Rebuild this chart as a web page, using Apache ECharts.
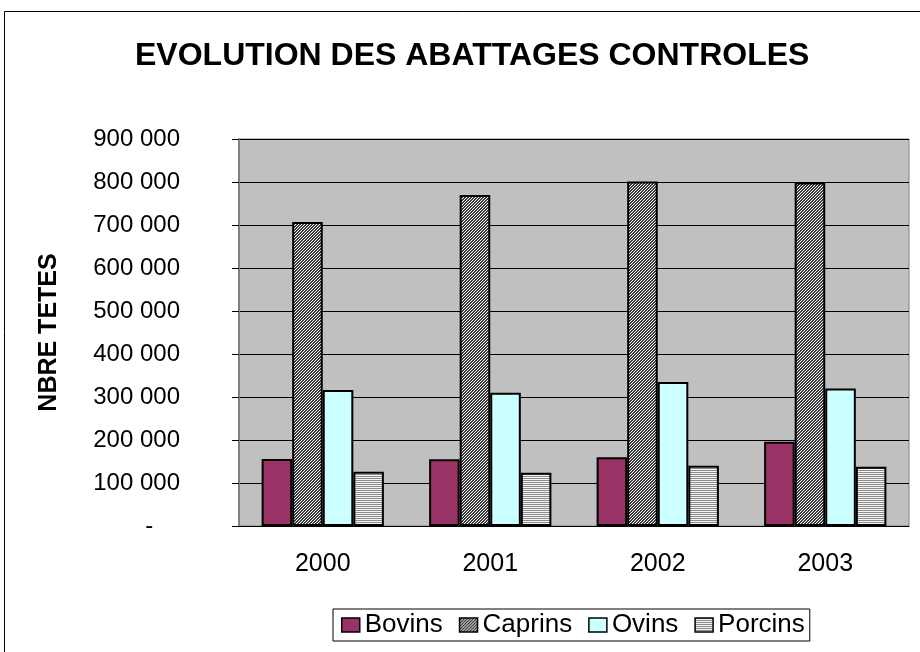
<!DOCTYPE html>
<html>

<head>
  <meta charset="utf-8">
  <title>Evolution des abattages controles</title>
  <style>
    html, body { margin: 0; padding: 0; background: #fff; }
    #chart { width: 920px; height: 652px; }
  </style>
</head>

<body>
  <div id="chart"></div>
  <script src="https://cdn.jsdelivr.net/npm/echarts@6/dist/echarts.min.js"></script>

  <script type="text/javascript">
    // données
    var annees = ['2000', '2001', '2002', '2003'];
    var bovins = [156000, 155000, 160000, 196000];
    var caprins = [707000, 770000, 801000, 799000];
    var ovins = [316000, 310000, 335000, 320000];
    var porcins = [126000, 124000, 140000, 138000];

    var police = 'Liberation Sans, Arial, sans-serif';

    // motif hachuré diagonal fin (caprins)
    function motifDiagonal() {
      var c = document.createElement('canvas');
      c.width = 3; c.height = 3;
      var ctx = c.getContext('2d');
      ctx.fillStyle = '#ffffff';
      ctx.fillRect(0, 0, 3, 3);
      ctx.fillStyle = '#3c3c3c';
      for (var x = 0; x < 3; x++) {
        for (var y = 0; y < 3; y++) {
          if ((x + y) % 3 !== 0) ctx.fillRect(x, y, 1, 1);
        }
      }
      return c;
    }

    // motif rayé horizontal (porcins)
    function motifHorizontal() {
      var c = document.createElement('canvas');
      c.width = 4; c.height = 2;
      var ctx = c.getContext('2d');
      ctx.fillStyle = '#f4f4f4';
      ctx.fillRect(0, 0, 4, 2);
      ctx.fillStyle = '#8c8c8c';
      ctx.fillRect(0, 0, 4, 1);
      return c;
    }

    function serie(nom, valeurs, couleur) {
      return {
        name: nom,
        type: 'bar',
        data: valeurs,
        barGap: '0%',
        barCategoryGap: '27%',
        itemStyle: { color: couleur, borderColor: '#000', borderWidth: 2 }
      };
    }

    var chart = echarts.init(document.getElementById('chart'));
    chart.setOption({
      animation: false,
      textStyle: { fontFamily: police },
      title: {
        text: 'EVOLUTION DES ABATTAGES CONTROLES',
        left: 135,
        top: 40,
        padding: 0,
        textStyle: { fontSize: 32, fontWeight: 'bold', color: '#000', fontFamily: police }
      },
      graphic: [{
        type: 'rect',
        shape: { x: 4.5, y: 11.5, width: 1000, height: 1000 },
        style: { fill: 'none', stroke: '#000', lineWidth: 1 },
        silent: true
      }],
      grid: {
        left: 239, top: 139, right: 11, bottom: 126,
        show: true,
        backgroundColor: '#c0c0c0',
        borderColor: '#808080',
        borderWidth: 1
      },
      legend: {
        left: 333,
        top: 609,
        padding: [3, 5, 3, 8],
        backgroundColor: '#fff',
        borderColor: '#000',
        borderWidth: 1,
        borderRadius: 0,
        icon: 'rect',
        itemWidth: 18,
        itemHeight: 14,
        itemGap: 16,
        textStyle: { fontSize: 26, color: '#000', fontFamily: police },
        itemStyle: { borderColor: '#000', borderWidth: 1.5 },
        data: ['Bovins', 'Caprins', 'Ovins', 'Porcins']
      },
      xAxis: {
        type: 'category',
        data: annees,
        axisLine: { lineStyle: { color: '#000', width: 1 } },
        axisTick: { length: 7, lineStyle: { color: '#000' } },
        axisLabel: { fontSize: 25, color: '#000', margin: 26, fontFamily: police }
      },
      yAxis: {
        type: 'value',
        min: 0,
        max: 900000,
        interval: 100000,
        name: 'NBRE TETES',
        nameLocation: 'middle',
        nameGap: 177,
        nameRotate: 90,
        nameTextStyle: { fontSize: 25, fontWeight: 'bold', color: '#000', fontFamily: police },
        axisLine: { show: true, lineStyle: { color: '#808080', width: 2 } },
        axisTick: { show: true, length: 7, inside: false, lineStyle: { color: '#000' } },
        splitLine: { lineStyle: { color: '#000', width: 1 } },
        axisLabel: {
          fontSize: 24,
          color: '#000',
          margin: 59,
          fontFamily: police,
          formatter: function (v) {
            if (v === 0) return '-    ';
            return String(v).replace(/\B(?=(\d{3})+(?!\d))/g, ' ');
          }
        }
      },
      series: [
        serie('Bovins', bovins, '#993366'),
        serie('Caprins', caprins, { image: motifDiagonal(), repeat: 'repeat' }),
        serie('Ovins', ovins, '#ccffff'),
        serie('Porcins', porcins, { image: motifHorizontal(), repeat: 'repeat' })
      ]
    });
    window.addEventListener('resize', chart.resize);
  </script>
</body>

</html>
